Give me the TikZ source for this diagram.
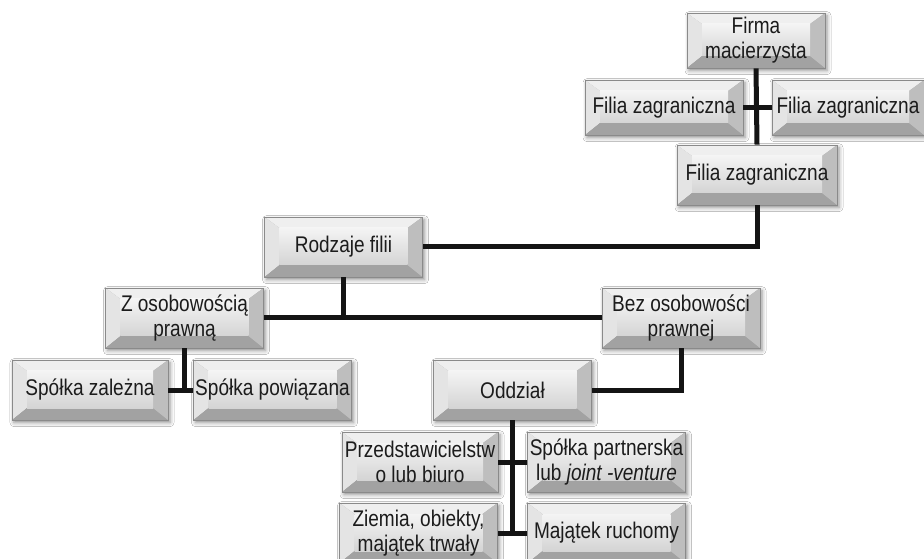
\documentclass[tikz,border=0pt]{standalone}
\usepackage{fontspec}
\setmainfont{Liberation Sans}[FakeStretch=0.84]
\usetikzlibrary{shadows.blur}
\definecolor{bvtop}{HTML}{EFEFEF}
\definecolor{bvleft}{HTML}{E4E4E4}
\definecolor{bvbot}{HTML}{A2A2A2}
\definecolor{bvright}{HTML}{BEBEBE}
\definecolor{facetop}{HTML}{F4F4F4}
\definecolor{facebot}{HTML}{D4D4D4}
\definecolor{edgegray}{HTML}{8A8A8A}
\definecolor{txt}{HTML}{1C1C1C}
\tikzset{
  bbox/.style={
    rectangle, inner sep=0pt, align=center, text=txt,
    font=\fontsize{17}{18.75}\selectfont,
    minimum width=118.5pt, minimum height=45pt,
    draw=edgegray, line width=0.5pt, fill=bvbot,
    blur shadow={shadow xshift=1.5pt, shadow yshift=-2pt, shadow blur radius=3pt, shadow opacity=45},
    path picture={
      \coordinate (nw) at (path picture bounding box.north west);
      \coordinate (ne) at (path picture bounding box.north east);
      \coordinate (sw) at (path picture bounding box.south west);
      \coordinate (se) at (path picture bounding box.south east);
      \coordinate (inw) at ([shift={(11.25pt,-8.25pt)}]nw);
      \coordinate (ine) at ([shift={(-11.25pt,-8.25pt)}]ne);
      \coordinate (isw) at ([shift={(11.25pt,9pt)}]sw);
      \coordinate (ise) at ([shift={(-11.25pt,9pt)}]se);
      \fill[bvtop] (nw) -- (ne) -- (ine) -- (inw) -- cycle;
      \fill[bvleft] (nw) -- (inw) -- (isw) -- (sw) -- cycle;
      \fill[bvbot] (sw) -- (isw) -- (ise) -- (se) -- cycle;
      \fill[bvright] (ne) -- (se) -- (ise) -- (ine) -- cycle;
      \shade[top color=facetop, bottom color=facebot] (inw) rectangle (ise);
    }
  },
  conn/.style={line width=3.75pt, draw=black!92, line join=miter}
}
\begin{document}
\begin{tikzpicture}[x=0.75pt,y=-0.75pt]
\useasboundingbox (0,0) rectangle (924,559);
\fill[white] (0,0) rectangle (924,559);

\node[bbox, minimum width=103.5pt, minimum height=41.25pt] (firma) at (756,40.5) {Firma\\macierzysta};
\node[bbox, minimum height=41.25pt] (filial) at (664,107.5) {Filia zagraniczna};
\node[bbox, minimum width=114pt, minimum height=41.25pt] (filiar) at (848,107.5) {Filia zagraniczna};
\node[bbox, minimum width=120pt] (filiab) at (757,175) {Filia zagraniczna};
\node[bbox] (rodzaje) at (343.5,247) {Rodzaje filii};
\node[bbox] (zos) at (184.5,318) {Z osobowością\\prawną};
\node[bbox] (bez) at (681,318) {Bez osobowości\\prawnej};
\node[bbox, minimum width=117pt] (szal) at (90,390) {Spółka zależna};
\node[bbox] (spow) at (272.5,390) {Spółka powiązana};
\node[bbox] (odd) at (512.5,390) {Oddział};
\node[bbox, minimum width=117pt] (przed) at (420,462) {Przedstawicielstw\\o lub biuro};
\node[bbox] (spart) at (606.5,462) {Spółka partnerska\\lub \textit{joint -venture}};
\node[bbox] (ziemia) at (418.5,533) {Ziemia, obiekty,\\majątek trwały};
\node[bbox] (maj) at (606.5,533) {Majątek ruchomy};

\draw[conn] (firma.south) -- (filiab.north);
\draw[conn] (filial.east) -- (filiar.west);
\draw[conn] (filiab.south) |- (rodzaje.east);
\draw[conn] (rodzaje.south) -- (rodzaje.south |- zos.east);
\draw[conn] (zos.east) -- (bez.west);
\draw[conn] (zos.south) -- (zos.south |- szal.east);
\draw[conn] (szal.east) -- (spow.west);
\draw[conn] (bez.south) |- (odd.east);
\draw[conn] (odd.south) -- (odd.south |- ziemia.east);
\draw[conn] (przed.east) -- (spart.west);
\draw[conn] (ziemia.east) -- (maj.west);
\end{tikzpicture}
\end{document}
